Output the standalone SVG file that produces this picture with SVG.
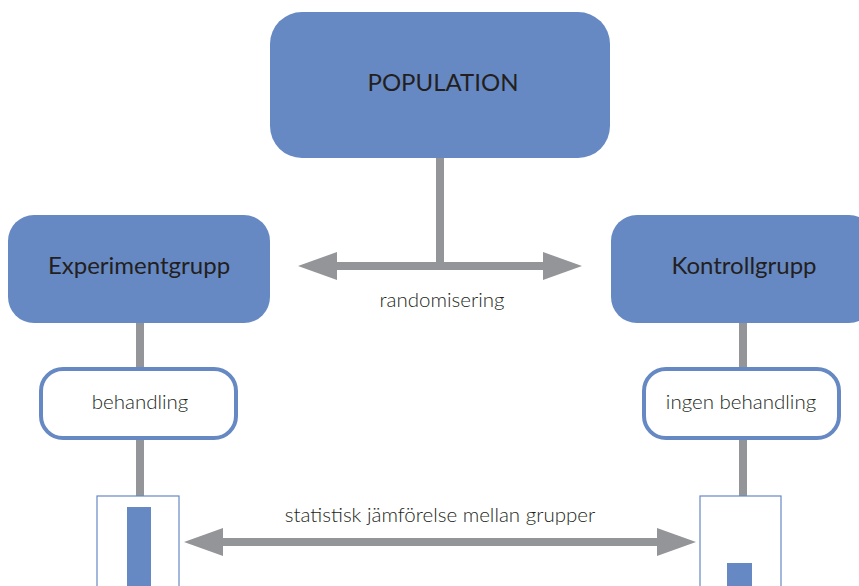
<svg xmlns="http://www.w3.org/2000/svg" width="859" height="586" viewBox="0 0 859 586">
<defs>
<style>
.blue{fill:#6689c3;}
.pill{fill:#ffffff;stroke:#6689c3;stroke-width:4;}
.frame{fill:#ffffff;stroke:#6689c3;stroke-width:1.2;}
.line{stroke:#939598;stroke-width:8;fill:none;}
.head{fill:#939598;}
text{font-family:Lato,"Open Sans","Liberation Sans",sans-serif;fill:#231f20;text-anchor:middle;}
.big{font-size:24px;}
.small{font-size:20.5px;font-weight:300;}
</style>
</defs>
<rect width="859" height="586" fill="#ffffff"/>
<g id="connectors">
<line class="line" x1="440" y1="155" x2="440" y2="266"/>
<line class="line" x1="334" y1="266" x2="546" y2="266"/>
<polygon class="head" points="298,266 337,252 337,280"/>
<polygon class="head" points="582,266 543,252 543,280"/>
<line class="line" x1="140" y1="320" x2="140" y2="370"/>
<line class="line" x1="140" y1="436" x2="140" y2="497"/>
<line class="line" x1="743" y1="320" x2="743" y2="370"/>
<line class="line" x1="743" y1="436" x2="743" y2="497"/>
<line class="line" x1="220" y1="542" x2="660" y2="542"/>
<polygon class="head" points="184,542 223,528 223,556"/>
<polygon class="head" points="696,542 657,528 657,556"/>
<text class="small" x="442" y="307">randomisering</text>
<text class="small" x="440" y="522">statistisk jämförelse mellan grupper</text>
</g>
<g id="population">
<rect class="blue" x="270" y="12" width="340" height="146" rx="32"/>
<text class="big" x="443" y="91">POPULATION</text>
</g>
<g id="experimentgrupp">
<rect class="blue" x="8" y="215" width="262" height="108" rx="26"/>
<text class="big" x="139" y="274">Experimentgrupp</text>
</g>
<g id="kontrollgrupp">
<rect class="blue" x="611" y="215" width="264" height="108" rx="26"/>
<text class="big" x="744" y="274">Kontrollgrupp</text>
</g>
<g id="behandling">
<rect class="pill" x="41" y="369" width="195" height="69" rx="22"/>
<text class="small" x="140" y="409">behandling</text>
</g>
<g id="ingen-behandling">
<rect class="pill" x="644" y="369" width="195" height="69" rx="22"/>
<text class="small" x="741" y="409">ingen behandling</text>
</g>
<g id="result-experiment">
<rect class="frame" x="97" y="496" width="82" height="100"/>
<rect class="blue" x="127" y="507" width="24" height="90"/>
</g>
<g id="result-kontroll">
<rect class="frame" x="700" y="496" width="81" height="100"/>
<rect class="blue" x="727" y="563" width="25" height="30"/>
</g>
</svg>
